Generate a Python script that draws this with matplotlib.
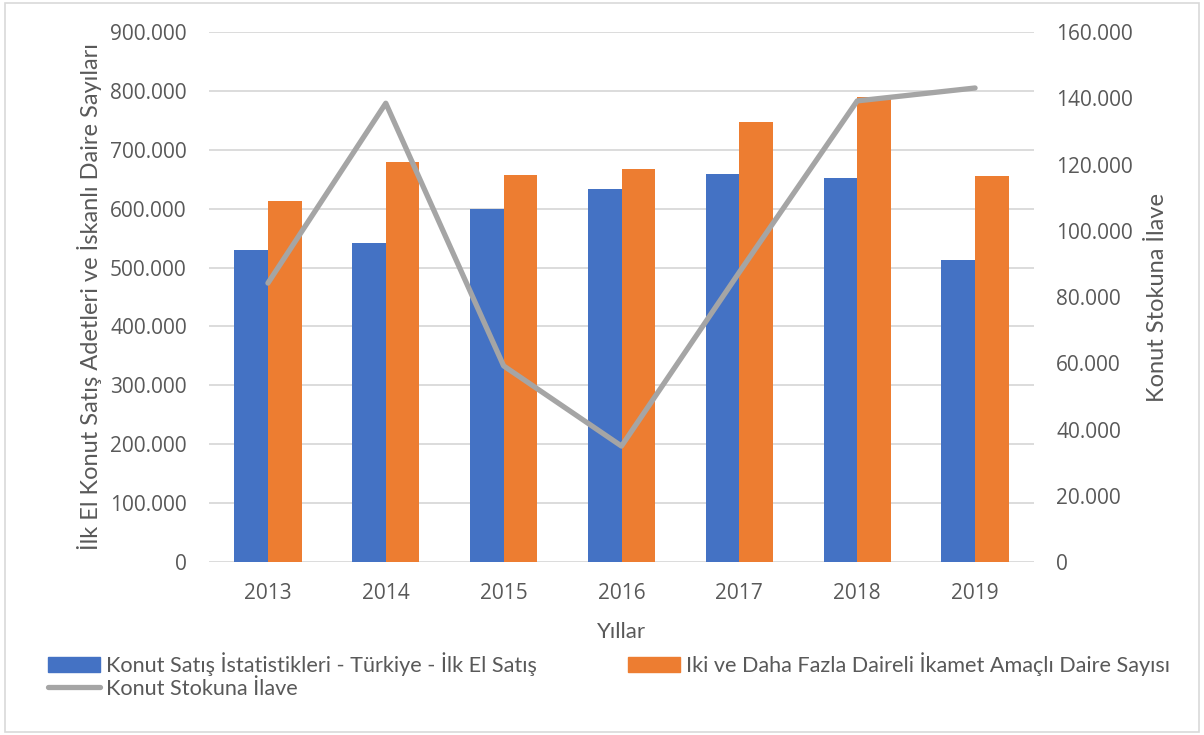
import numpy as np
import matplotlib.pyplot as plt
from matplotlib.ticker import FuncFormatter, MultipleLocator
from matplotlib.lines import Line2D
from matplotlib.patches import Patch

plt.rcParams['font.family'] = ['Lato', 'DejaVu Sans']

# data
years = ['2013', '2014', '2015', '2016', '2017', '2018', '2019']
ilk_el = [530000, 542000, 599000, 633000, 659000, 652000, 512000]
daire = [613000, 680000, 658000, 667000, 747000, 790000, 655000]
stok = [84200, 138500, 59200, 35000, 87500, 139200, 143100]

blue = '#4472c4'
orange = '#ed7d31'
gray = '#a5a5a5'
txt = '#595959'

def fmt(v, pos):
    return f"{int(round(v)):,}".replace(',', '.')

fig = plt.figure(figsize=(12.04, 7.35), dpi=100)
ax = fig.add_axes([209/1204, 1 - 562/735, 825/1204, 530/735])
ax2 = ax.twinx()

x = np.arange(len(years))
w = 0.285
ax.bar(x - w/2, ilk_el, w, color=blue, zorder=2)
ax.bar(x + w/2, daire, w, color=orange, zorder=2)
ax2.plot(x, stok, color=gray, lw=3.8, solid_capstyle='round', solid_joinstyle='round', zorder=3)

ax.set_xlim(-0.5, len(years) - 0.5)
ax.set_ylim(0, 900000)
ax2.set_ylim(0, 160000)
ax.yaxis.set_major_locator(MultipleLocator(100000))
ax2.yaxis.set_major_locator(MultipleLocator(20000))
ax.yaxis.set_major_formatter(FuncFormatter(fmt))
ax2.yaxis.set_major_formatter(FuncFormatter(fmt))
ax.set_xticks(x)
ax.set_xticklabels(years)

ax.grid(axis='y', color='#d9d9d9', lw=1.3, zorder=0)
ax.set_axisbelow(True)
for a in (ax, ax2):
    for s in a.spines.values():
        s.set_visible(False)
    a.tick_params(length=0, labelsize=15, colors=txt)
    for lab in a.get_xticklabels() + a.get_yticklabels():
        lab.set_family(['Open Sans', 'DejaVu Sans'])
ax.tick_params(axis='y', pad=16)
ax2.tick_params(axis='y', pad=16)
ax.tick_params(axis='x', pad=15)

ax.set_xlabel('Yıllar', fontsize=16, color=txt, labelpad=13)
ax.set_ylabel('İlk El Konut Satış Adetleri ve İskanlı Daire Sayıları', fontsize=17, color=txt, labelpad=6)
ax2.set_ylabel('Konut Stokuna İlave', fontsize=17, color=txt, labelpad=10)

handles = [Patch(color=blue), Line2D([], [], color=gray, lw=3.8, solid_capstyle='round'), Patch(color=orange)]
labels = ['Konut Satış İstatistikleri - Türkiye - İlk El Satış', 'Konut Stokuna İlave',
          'Iki ve Daha Fazla Daireli İkamet Amaçlı Daire Sayısı']
leg = fig.legend(handles, labels, ncol=2, loc='upper left', bbox_to_anchor=(37/1204, 1 - 641/735),
                 frameon=False, fontsize=15.6, handlelength=2.4, handletextpad=0.28, borderpad=0,
                 columnspacing=4.2, labelspacing=0.15, labelcolor=txt)

fig.patches.append(plt.Rectangle((0.004, 0.004), 0.992, 0.992, transform=fig.transFigure,
                                 fill=False, edgecolor='#d9d9d9', lw=1.2))

fig.savefig('out.png', dpi=100)
